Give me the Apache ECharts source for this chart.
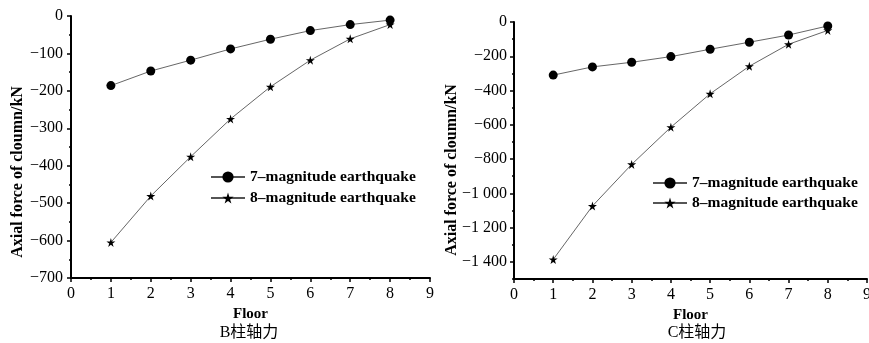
<!DOCTYPE html>
<html>
<head>
<meta charset="utf-8">
<script src="https://cdn.jsdelivr.net/npm/echarts@6/dist/echarts.min.js"></script>
<style>
    html, body { margin: 0; padding: 0; background: #fff; }
    #chart { width: 869px; height: 343px; }
</style>
</head>
<body>
<div id="chart"></div>
<script>
    // floors and column axial force (kN)
    var floors = [1, 2, 3, 4, 5, 6, 7, 8];
    var bMag7 = [-186, -147, -118, -88, -62, -39, -23, -11];
    var bMag8 = [-605, -481, -376, -275, -189, -118, -61, -23];
    var cMag7 = [-310, -262, -235, -202, -159, -118, -76, -23];
    var cMag8 = [-1386, -1074, -831, -614, -419, -258, -130, -49];
    var cLabels = [0, -200, -400, -600, -800, -1000, -1200, -1400];
    var legendB = ['7\u2013magnitude earthquake', '8\u2013magnitude earthquake'];
    var legendC = ['7\u2013magnitude earthquake ', '8\u2013magnitude earthquake '];

    var font = '"Liberation Serif", "Times New Roman", serif';
    var star = 'path://M50,0 L61,35 L98,35 L68,57 L79,91 L50,70 L21,91 L32,57 L2,35 L39,35 Z';

    function pair(xs, ys) {
        return xs.map(function (x, i) { return [x, ys[i]]; });
    }
    function fmt(v) {
        if (v === 0) return '0';
        var a = Math.abs(v);
        var s = a >= 1000 ? Math.floor(a / 1000) + ' ' + String(a % 1000).padStart(3, '0') : String(a);
        return '\u2212' + s;
    }

    var tickStyle = { color: '#000', width: 1.5 };
    function xAxis(gi) {
        return {
            type: 'value', gridIndex: gi, min: 0, max: 9, interval: 1,
            name: 'Floor', nameLocation: 'middle', nameGap: 29,
            nameTextStyle: { fontFamily: font, fontWeight: 'bold', fontSize: 15, color: '#000' },
            axisLine: { onZero: false, lineStyle: { color: '#000', width: 2 } },
            axisTick: { length: 4, lineStyle: tickStyle },
            minorTick: { show: true, splitNumber: 2, length: 2, lineStyle: tickStyle },
            splitLine: { show: false },
            axisLabel: { fontFamily: font, fontSize: 16, color: '#000', margin: 8 }
        };
    }

    function series(name, xi, yi, data, sym, size) {
        return {
            name: name, type: 'line', xAxisIndex: xi, yAxisIndex: yi, data: data,
            symbol: sym, symbolSize: size, showSymbol: true,
            itemStyle: { color: '#000' },
            lineStyle: { color: '#555', width: 0.9 },
            emphasis: { disabled: true }, animation: false
        };
    }
    function legend(names, left, top, gap) {
        return {
            data: names, left: left, top: top, orient: 'vertical', itemGap: gap,
            itemWidth: 34, itemHeight: 14,
            textStyle: { fontFamily: font, fontWeight: 'bold', fontSize: 15.5, color: '#000' },
            selectedMode: false
        };
    }
    function label(text, x, y, rot, weight) {
        return {
            type: 'text', x: x, y: y, rotation: rot,
            style: {
                text: text, fill: '#000', align: 'center', verticalAlign: 'middle',
                font: weight + ' 16px "Liberation Serif", "Noto Sans CJK SC", serif'
            }
        };
    }

    var myChart = echarts.init(document.getElementById('chart'));
    var option = {
        backgroundColor: '#fff',
        animation: false,
        grid: [
            { left: 71, top: 16, width: 359, height: 262, outerBoundsMode: 'none' },
            { left: 514, top: 22, width: 353, height: 257, outerBoundsMode: 'none' }
        ],
        xAxis: [xAxis(0), xAxis(1)],
        yAxis: [{
            type: 'value', gridIndex: 0, min: -700, max: 0, interval: 100,
            axisLine: { show: true, onZero: false, lineStyle: { color: '#000', width: 2 } },
            axisTick: { show: true, length: 4, lineStyle: tickStyle },
            minorTick: { show: true, splitNumber: 2, length: 2, lineStyle: tickStyle },
            splitLine: { show: false },
            axisLabel: { fontFamily: font, fontSize: 16, color: '#000', margin: 8, formatter: fmt }
        }, {
            type: 'value', gridIndex: 1, min: -1500, max: 0, interval: 100,
            axisLine: { show: true, onZero: false, lineStyle: { color: '#000', width: 2 } },
            axisTick: { show: true, length: 4, customValues: cLabels, lineStyle: tickStyle },
            splitLine: { show: false },
            axisLabel: { fontFamily: font, fontSize: 16, color: '#000', margin: 7, customValues: cLabels, formatter: fmt }
        }, {
            // short ticks at the odd hundreds
            type: 'value', gridIndex: 1, min: -1500, max: 0, interval: 100, position: 'left',
            axisLine: { show: false, onZero: false },
            axisTick: { show: true, length: 2, lineStyle: tickStyle },
            axisLabel: { show: false },
            splitLine: { show: false }
        }],
        legend: [legend(legendB, 205, 164, 5), legend(legendC, 647, 170, 4)],
        graphic: [
            label('Axial force of cloumn/kN', 18, 172, Math.PI / 2, 'bold'),
            label('Axial force of cloumn/kN', 452, 170, Math.PI / 2, 'bold'),
            label('B柱轴力', 249, 333, 0, 'normal'),
            label('C柱轴力', 697, 333, 0, 'normal')
        ],
        series: [
            series(legendB[0], 0, 0, pair(floors, bMag7), 'circle', 9),
            series(legendB[1], 0, 0, pair(floors, bMag8), star, 9),
            series(legendC[0], 1, 1, pair(floors, cMag7), 'circle', 9),
            series(legendC[1], 1, 1, pair(floors, cMag8), star, 9)
        ]
    };
    myChart.setOption(option);
</script>
</body>
</html>
